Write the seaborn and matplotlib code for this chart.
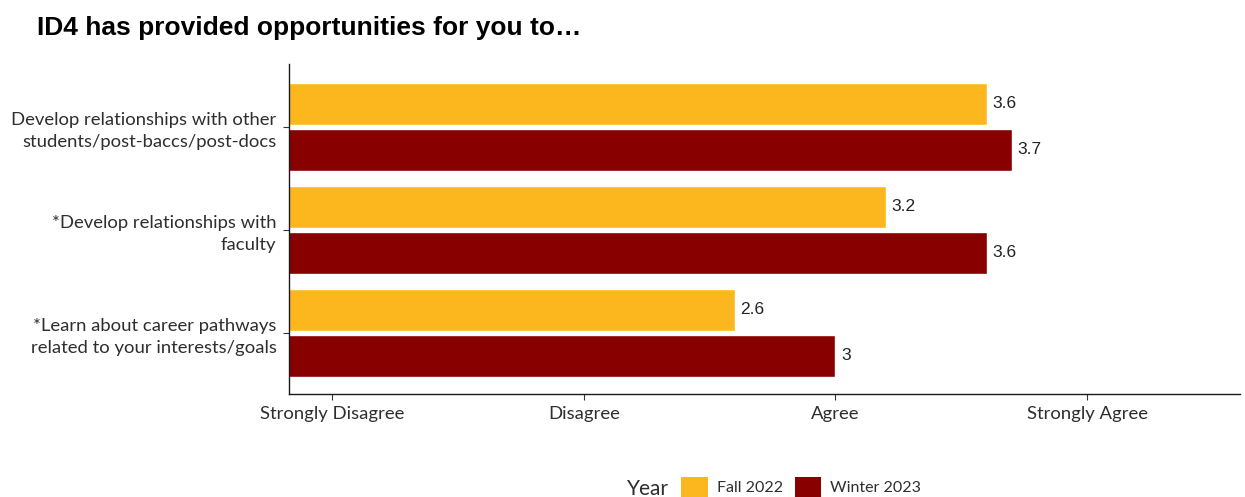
import matplotlib
matplotlib.use("Agg")
import matplotlib.pyplot as plt
from matplotlib.patches import Patch
import seaborn as sns
import pandas as pd

# Survey items (y axis) and mean ratings per cohort
items = [
    "Develop relationships with other\nstudents/post-baccs/post-docs",
    "*Develop relationships with\nfaculty",
    "*Learn about career pathways\nrelated to your interests/goals",
]
years = ["Fall 2022", "Winter 2023"]
fall_2022 = [3.6, 3.2, 2.6]
winter_2023 = [3.7, 3.6, 3.0]

scale_values = [1, 2, 3, 4]
scale_labels = ["Strongly Disagree", "Disagree", "Agree", "Strongly Agree"]

colors = {"Fall 2022": "#FDB71E", "Winter 2023": "#890000"}

df = pd.DataFrame({
    "item": items * 2,
    "Year": [years[0]] * len(items) + [years[1]] * len(items),
    "rating": fall_2022 + winter_2023,
})

sns.set_theme(style="white")
label_font = ["Lato", "DejaVu Sans"]
value_font = ["Liberation Sans", "DejaVu Sans"]
text_color = "#2E2E2E"

W, H = 1245, 497
fig = plt.figure(figsize=(W / 100, H / 100), dpi=100)
ax = fig.add_axes([289 / W, 1 - 394 / H, (1240 - 289) / W, (394 - 64) / H])

sns.barplot(
    data=df, y="item", x="rating", hue="Year", order=items, hue_order=years,
    palette=colors, width=0.9, gap=0.094, orient="h", legend=False,
    saturation=1, ax=ax, errorbar=None,
)

for container in ax.containers:
    ax.bar_label(container, labels=[f"{v:g}" for v in container.datavalues],
                 padding=4, fontsize=12.5, family=value_font, color="#222222")

ax.set_xlim(0.829, 4.607)
ax.set_ylim(2.595, -0.609)
ax.set_xticks(scale_values)
ax.set_xticklabels(scale_labels)
ax.set_xlabel("")
ax.set_ylabel("")

for lbl in ax.get_xticklabels() + ax.get_yticklabels():
    lbl.set_family(label_font)
    lbl.set_fontsize(13.3)
    lbl.set_color(text_color)
for lbl in ax.get_yticklabels():
    lbl.set_multialignment("right")
    lbl.set_linespacing(1.45)

ax.tick_params(axis="both", which="both", direction="out", length=4,
               width=0.8, color="#333333", left=True, bottom=True)
ax.tick_params(axis="y", pad=5)
ax.tick_params(axis="x", pad=5)

sns.despine(ax=ax, top=True, right=True)
for side in ("left", "bottom"):
    ax.spines[side].set_color("#1a1a1a")
    ax.spines[side].set_linewidth(1.0)

fig.text(37 / W, 1 - 28 / H, "ID4 has provided opportunities for you to…",
         fontsize=19, fontweight="bold", family=value_font, color="black",
         ha="left", va="center")

handles = [Patch(facecolor=colors[y], edgecolor="none") for y in years]
fig.text(627 / W, 1 - 489 / H, "Year", fontsize=15, family=label_font,
         color=text_color, ha="left", va="center")
fig.legend(handles, years, loc="center left", bbox_to_anchor=(675 / W, 1 - 487 / H),
           ncol=2, frameon=False, handlelength=1.65, handleheight=1.5,
           handletextpad=0.55, columnspacing=0.75, borderaxespad=0,
           prop={"family": label_font, "size": 11.5}, labelcolor=text_color)

fig.savefig("out.png", dpi=100)
